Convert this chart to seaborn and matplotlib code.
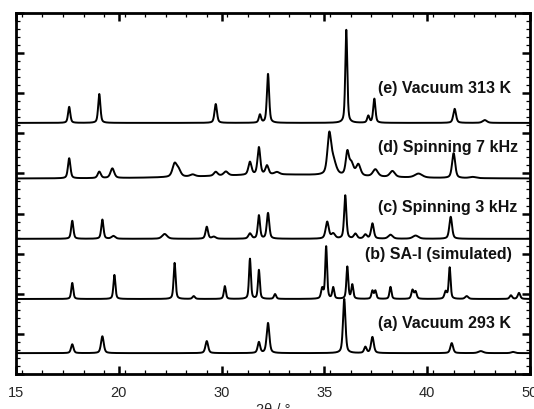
import numpy as np
import pandas as pd
import matplotlib
matplotlib.use("Agg")
import matplotlib.pyplot as plt
import seaborn as sns
from matplotlib.ticker import MultipleLocator

# ---- data (2theta positions, peak heights, widths) ----
x_tick_pos = [15, 22, 29, 36, 43, 50]
x_tick_labels = ["15", "20", "30", "35", "40", "50"]

labels = ["(a) Vacuum 293 K", "(b) SA-I (simulated)", "(c) Spinning 3 kHz",
          "(d) Spinning 7 kHz", "(e) Vacuum 313 K"]
offsets = [0.52, 1.87, 3.37, 4.87, 6.26]

a_pos = [18.83, 20.88, 27.99, 31.54, 32.16, 37.35, 38.79, 39.27, 44.67, 46.65, 48.84]
a_hgt = [0.22, 0.42, 0.30, 0.27, 0.75, 1.35, 0.15, 0.40, 0.25, 0.05, 0.03]
a_wid = [0.20, 0.22, 0.22, 0.20, 0.22, 0.20, 0.20, 0.22, 0.22, 0.40, 0.30]

b_pos = [18.83, 21.70, 25.80, 27.10, 29.22, 30.93, 31.54, 32.64, 35.85, 36.12, 36.60,
         37.56, 37.90, 39.27, 39.47, 40.50, 42.00, 42.21, 44.26, 44.53, 45.69, 48.70, 49.25]
b_hgt = [0.40, 0.60, 0.90, 0.07, 0.32, 1.00, 0.72, 0.12, 0.25, 1.30, 0.28,
         0.80, 0.35, 0.20, 0.20, 0.30, 0.22, 0.18, 0.18, 0.78, 0.07, 0.09, 0.15]
b_wid = [0.16, 0.16, 0.16, 0.20, 0.16, 0.15, 0.15, 0.18, 0.18, 0.15, 0.16,
         0.15, 0.16, 0.16, 0.16, 0.16, 0.18, 0.18, 0.20, 0.15, 0.25, 0.20, 0.20]

c_pos = [18.83, 20.88, 21.63, 25.12, 27.99, 28.47, 30.93, 31.54, 32.16, 36.19, 36.60,
         37.42, 38.11, 38.79, 39.27, 40.50, 42.21, 44.60]
c_hgt = [0.45, 0.48, 0.07, 0.12, 0.30, 0.05, 0.13, 0.58, 0.64, 0.42, 0.12,
         1.08, 0.12, 0.10, 0.38, 0.10, 0.08, 0.55]
c_wid = [0.18, 0.18, 0.30, 0.40, 0.20, 0.30, 0.25, 0.18, 0.20, 0.25, 0.30,
         0.18, 0.25, 0.25, 0.22, 0.35, 0.45, 0.22]

d_pos = [18.62, 20.67, 21.56, 25.80, 26.07, 27.03, 28.60, 29.29, 30.93, 31.54, 32.09,
         32.77, 36.33, 36.60, 37.56, 37.83, 38.31, 39.47, 40.63, 42.41, 44.80, 46.10, 33.0]
d_hgt = [0.50, 0.16, 0.24, 0.32, 0.16, 0.05, 0.10, 0.10, 0.32, 0.68, 0.22,
         0.06, 0.95, 0.35, 0.55, 0.30, 0.28, 0.18, 0.15, 0.10, 0.62, 0.03, 0.10]
d_wid = [0.20, 0.25, 0.30, 0.35, 0.35, 0.40, 0.30, 0.35, 0.25, 0.22, 0.25,
         0.40, 0.30, 0.45, 0.25, 0.35, 0.35, 0.40, 0.40, 0.60, 0.25, 0.50, 12.0]

e_pos = [18.62, 20.67, 28.60, 31.61, 32.16, 37.49, 38.99, 39.40, 44.87, 46.92]
e_hgt = [0.40, 0.72, 0.47, 0.20, 1.22, 2.32, 0.17, 0.60, 0.35, 0.07]
e_wid = [0.18, 0.18, 0.20, 0.18, 0.18, 0.16, 0.18, 0.18, 0.22, 0.35]

text_x = [39.68, 38.79, 39.68, 39.68, 39.68]
text_y = [1.25, 2.97, 4.14, 5.64, 7.13]

# ---- build profiles from the peak lists ----
two_theta = np.linspace(15, 50, 3501)


def profile(pos, hgt, wid):
    y = np.zeros_like(two_theta)
    for p, h, w in zip(pos, hgt, wid):
        g = w / 2.0
        lor = g ** 2 / ((two_theta - p) ** 2 + g ** 2)
        gau = np.exp(-np.log(2) * ((two_theta - p) / g) ** 2)
        y += h * (0.5 * lor + 0.5 * gau)
    return y


peak_sets = [(a_pos, a_hgt, a_wid), (b_pos, b_hgt, b_wid), (c_pos, c_hgt, c_wid),
             (d_pos, d_hgt, d_wid), (e_pos, e_hgt, e_wid)]

frames = []
for lab, off, (p, h, w) in zip(labels, offsets, peak_sets):
    frames.append(pd.DataFrame({"two_theta": two_theta,
                                "intensity": off + profile(p, h, w),
                                "pattern": lab}))
df = pd.concat(frames, ignore_index=True)

# ---- plotting ----
sns.set_style("ticks")
plt.rcParams["font.family"] = ["Liberation Sans", "DejaVu Sans"]

fig = plt.figure(figsize=(5.34, 4.09), dpi=100)
ax = fig.add_axes([0.030, 0.0856, 0.9625, 0.8826])

sns.lineplot(data=df, x="two_theta", y="intensity", hue="pattern",
             palette=["black"] * 5, legend=False, linewidth=1.4, ax=ax,
             estimator=None, sort=False)

for lab, tx, ty in zip(labels, text_x, text_y):
    ax.text(tx, ty, lab, fontsize=11.5, fontweight="bold", ha="left", va="center",
            color="#111111")

ax.set_xlim(15, 50)
ax.set_ylim(0, 9)
ax.set_xticks(x_tick_pos)
ax.set_xticklabels(x_tick_labels)
ax.xaxis.set_minor_locator(MultipleLocator(1.4))
ax.yaxis.set_major_locator(MultipleLocator(1))
ax.yaxis.set_minor_locator(MultipleLocator(0.2))
ax.set_yticklabels([])
ax.tick_params(which="both", direction="in", top=True, right=True, labelsize=10.5,
               color="black")
ax.tick_params(which="major", length=6, width=1.8, pad=9)
ax.tick_params(which="minor", length=3, width=0.9)
for s in ax.spines.values():
    s.set_linewidth(2.0)
    s.set_color("black")
ax.set_xlabel("2θ / °", fontsize=10.5, labelpad=2)
ax.set_ylabel("")

fig.savefig("out.png", dpi=100)
